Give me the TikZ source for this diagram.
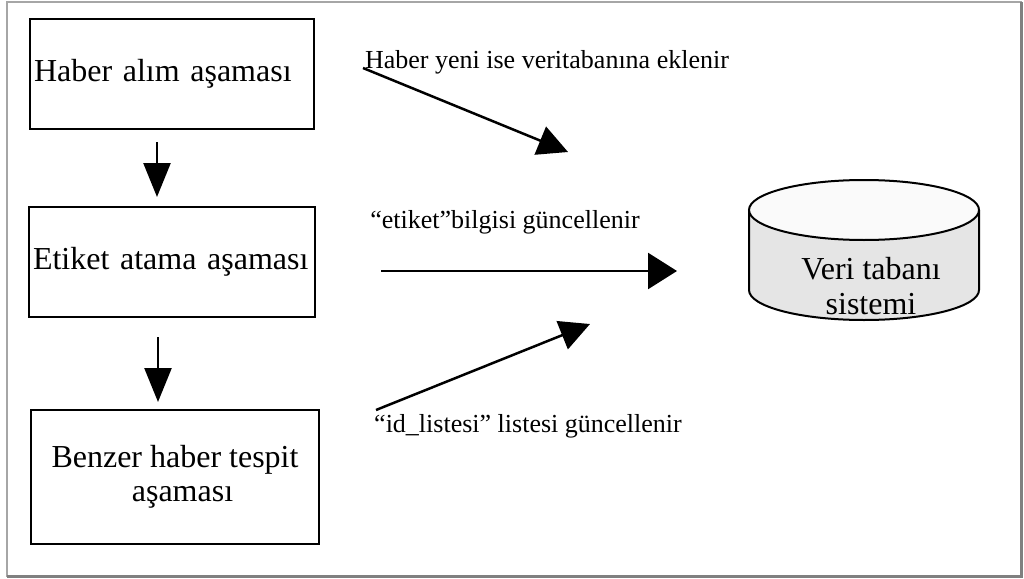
\documentclass[tikz,border=0pt]{standalone}
\usepackage{fontspec}
\setmainfont{Liberation Serif}
\usetikzlibrary{positioning, arrows.meta}

\begin{document}
\begin{tikzpicture}[
			x=1pt, y=-1pt,
			nodes = {
				align = center
			},
			stage/.style={
				draw,
				line width=2.6pt,
				rectangle,
				outer sep=0pt,
				inner sep=4pt,
				minimum width=284pt,
				minimum height=110pt,
				font=\fontsize{32}{34}\selectfont
			},
			note/.style={
				inner sep=0pt,
				font=\fontsize{26}{30}\selectfont
			},
			lines/.style={
				line width=2.5pt
			},
			downtip/.style={-{Triangle[length=34pt,width=27pt]}},
			sidetip/.style={-{Triangle[length=29pt,width=36pt]}},
			slanttip/.style={-{Triangle[length=30pt,width=30pt]}}
		]
			\useasboundingbox (0,0) rectangle (1024,578);

			% frame
			\draw[gray!70, line width=1.5pt] (7,2) rectangle (1021,576);
			\draw[gray, line width=3pt] (1021,2) -- (1021,576) -- (7,576);

			\node[stage, text width=276pt, align=left] (haber) at (172,74) {Haber alım aşaması};

			\node[stage, text width=278pt, align=left, minimum width=286pt]
				(etiket)
				[below=78pt of haber]
				{Etiket atama aşaması};

			\node[stage, minimum width=288pt, minimum height=134pt]
				(benzer)
				[below=93pt of etiket, xshift=3pt]
				{Benzer haber tespit\\
				\hspace*{15pt}aşaması};

			\draw[lines,downtip,shorten <=13pt,shorten >=10pt]
				([xshift=-15pt]haber.south) -- ([xshift=-15pt]haber.south |- etiket.north);
			\draw[lines,downtip,shorten <=20pt,shorten >=8pt]
				([xshift=-14pt]etiket.south) -- ([xshift=-14pt]etiket.south |- benzer.north);

			% database
			\fill[gray!20] (749,210) -- (749,290)
				arc[start angle=180, end angle=360, x radius=115pt, y radius=30pt]
				-- (979,210) -- cycle;
			\draw[line width=2pt] (749,210) -- (749,290)
				arc[start angle=180, end angle=360, x radius=115pt, y radius=30pt]
				-- (979,210);
			\draw[line width=2pt, fill=gray!4] (864,210) ellipse[x radius=115pt, y radius=30pt];
			\node[inner sep=0pt, font=\fontsize{32}{35}\selectfont] (db) at (871,286) {Veri tabanı\\sistemi};

			% updates
			\node[note] (yeni) at (547,62) {Haber yeni ise veritabanına eklenir};
			\coordinate (yeniS) at (363,68);
			\coordinate (yeniE) at (568,152);
			\draw[lines,slanttip] (yeniS) -- (yeniE);

			\node[note] (bilgi) at (505,222) {“etiket”bilgisi güncellenir};
			\coordinate (bilgiS) at (381,271);
			\coordinate (bilgiE) at (677,271);
			\draw[lines,sidetip] (bilgiS) -- (bilgiE);

			\node[note] (liste) at (528,426) {“id\_listesi” listesi güncellenir};
			\coordinate (listeS) at (376,410);
			\coordinate (listeE) at (590,324);
			\draw[lines,slanttip] (listeS) -- (listeE);
		\end{tikzpicture}
\end{document}
